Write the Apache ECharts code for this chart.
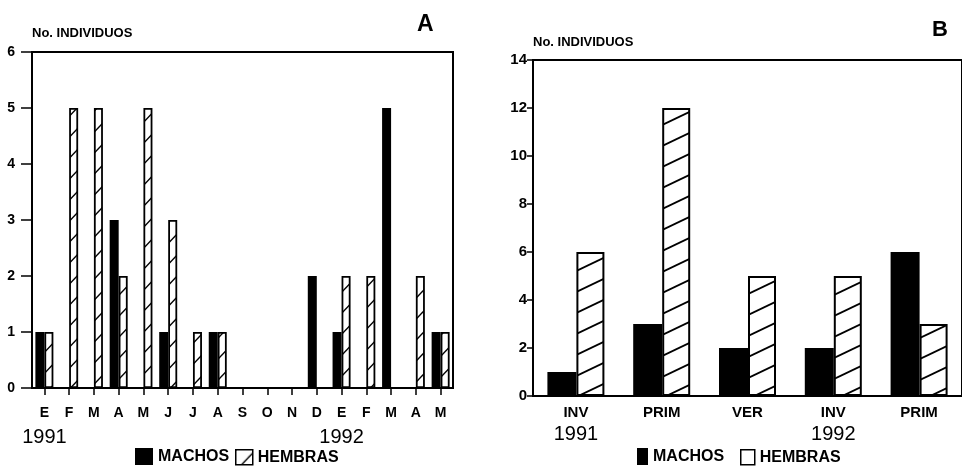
<!DOCTYPE html>
<html><head><meta charset="utf-8">
<script src="https://cdn.jsdelivr.net/npm/echarts@6/dist/echarts.min.js"></script>
<style>html,body{margin:0;padding:0;background:#fff}#c{width:962px;height:468px}</style>
</head><body><div id="c"></div>
<script>
// ---- Panel A data (monthly) ----
const monthsA = ['E','F','M','A','M','J','J','A','S','O','N','D','E','F','M','A','M'];
const machosA = [1,0,0,3,0,1,0,1,0,0,0,2,1,0,5,0,1];
const hembrasA = [1,5,5,2,5,3,1,1,0,0,0,0,2,2,0,2,1];
const yearMarksA = [[0,'1991'],[12,'1992']];
const yTicksA = [0,1,2,3,4,5,6];
// ---- Panel B data (seasonal) ----
const seasonsB = ['INV','PRIM','VER','INV','PRIM'];
const machosB = [1,3,2,2,6];
const hembrasB = [6,12,5,5,3];
const yearMarksB = [[0,'1991'],[3,'1992']];
const yTicksB = [0,2,4,6,8,10,12,14];

function hatch(W, H, lw) {
  const c = document.createElement('canvas');
  c.width = W; c.height = H;
  const ctx = c.getContext('2d');
  ctx.fillStyle = '#fff'; ctx.fillRect(0,0,W,H);
  ctx.strokeStyle = '#000'; ctx.lineWidth = lw;
  for (let k = -1; k <= 1; k++) {
    ctx.beginPath();
    ctx.moveTo(-W, 2*H + k*H);
    ctx.lineTo(2*W, -H + k*H);
    ctx.stroke();
  }
  return {image: c, repeat: 'repeat'};
}
const patA = hatch(20, 21, 1.4);
const patB = hatch(44, 21, 1.9);

const FONT = 'Liberation Sans';
function yearOf(marks, i) { const m = marks.find(p => p[0] === i); return m ? m[1] : null; }

const chart = echarts.init(document.getElementById('c'), null, {renderer: 'canvas'});
const axisLineStyle = {color: '#000', width: 2};
const legText = {fontFamily: FONT, fontSize: 16, fontWeight: 'bold', color: '#000'};
chart.setOption({
  backgroundColor: '#fff',
  animation: false,
  title: [
    {text: 'No. INDIVIDUOS', left: 32, top: 27, padding: 0, textStyle: {fontFamily: FONT, fontSize: 13, fontWeight: 'bold', color: '#000'}},
    {text: 'A', left: 417, top: 13, padding: 0, textStyle: {fontFamily: FONT, fontSize: 23, fontWeight: 'bold', color: '#000'}},
    {text: 'No. INDIVIDUOS', left: 533, top: 36, padding: 0, textStyle: {fontFamily: FONT, fontSize: 13, fontWeight: 'bold', color: '#000'}},
    {text: 'B', left: 932, top: 19, padding: 0, textStyle: {fontFamily: FONT, fontSize: 22, fontWeight: 'bold', color: '#000'}}
  ],
  legend: [
    {left: 135, top: 448, padding: 0, itemWidth: 18, itemHeight: 17, selectedMode: false,
     data: [{name: 'MACHOS', icon: 'rect', itemStyle: {color: '#000'}}], textStyle: legText},
    {left: 235, top: 449, padding: 0, itemWidth: 17, itemHeight: 15, selectedMode: false,
     data: [{name: 'HEMBRAS', icon: 'rect', itemStyle: {color: patA, borderColor: '#000', borderWidth: 1.5}}], textStyle: legText},
    {left: 637, top: 448, padding: 0, itemWidth: 11, itemHeight: 17, selectedMode: false,
     data: [{name: 'MACHOS', icon: 'rect', itemStyle: {color: '#000'}}], textStyle: legText},
    {left: 740, top: 449, padding: 0, itemWidth: 14, itemHeight: 15, selectedMode: false,
     data: [{name: 'HEMBRAS', icon: 'rect', itemStyle: {color: '#fff', borderColor: '#000', borderWidth: 1.5}}], textStyle: legText}
  ],
  grid: [
    {left: 32, top: 52, width: 421, height: 336, show: true, borderColor: '#000', borderWidth: 2, backgroundColor: 'transparent'},
    {left: 533, top: 60, width: 432, height: 336, show: true, borderColor: '#000', borderWidth: 2, backgroundColor: 'transparent'}
  ],
  xAxis: [
    {type: 'category', gridIndex: 0, data: monthsA,
     axisLine: {lineStyle: axisLineStyle},
     axisTick: {show: true, alignWithLabel: true, length: 7, interval: 0, lineStyle: {color: '#000', width: 1.5}},
     axisLabel: {interval: 0, margin: 17, verticalAlign: 'top',
       formatter: (v, i) => { const y = yearOf(yearMarksA, i); return y ? '{c|' + v + '}\n{y|' + y + '}' : '{c|' + v + '}'; },
       rich: {c: {fontFamily: FONT, fontSize: 14, fontWeight: 'bold', color: '#000', lineHeight: 16},
              y: {fontFamily: FONT, fontSize: 20, color: '#000', lineHeight: 32}}}},
    {type: 'category', gridIndex: 1, data: seasonsB,
     axisLine: {lineStyle: axisLineStyle},
     axisTick: {show: false},
     axisLabel: {interval: 0, margin: 10, verticalAlign: 'top',
       formatter: (v, i) => { const y = yearOf(yearMarksB, i); return y ? '{c|' + v + '}\n{y|' + y + '}' : '{c|' + v + '}'; },
       rich: {c: {fontFamily: FONT, fontSize: 15, fontWeight: 'bold', color: '#000', lineHeight: 14},
              y: {fontFamily: FONT, fontSize: 20, color: '#000', lineHeight: 28}}}}
  ],
  yAxis: [
    {type: 'value', gridIndex: 0, min: yTicksA[0], max: yTicksA[yTicksA.length-1], interval: yTicksA[1]-yTicksA[0],
     axisLine: {show: true, lineStyle: axisLineStyle}, splitLine: {show: false},
     axisTick: {show: true, length: 11, lineStyle: {color: '#000', width: 1.5}},
     axisLabel: {margin: 17, fontFamily: FONT, fontSize: 14, fontWeight: 'bold', color: '#000'}},
    {type: 'value', gridIndex: 1, min: yTicksB[0], max: yTicksB[yTicksB.length-1], interval: yTicksB[1]-yTicksB[0],
     axisLine: {show: true, lineStyle: axisLineStyle}, splitLine: {show: false},
     axisTick: {show: true, length: 6, lineStyle: {color: '#000', width: 1.5}},
     axisLabel: {margin: 6, fontFamily: FONT, fontSize: 15, fontWeight: 'bold', color: '#000'}}
  ],
  series: [
    {name: 'MACHOS', type: 'bar', xAxisIndex: 0, yAxisIndex: 0, data: machosA, barWidth: 9, barGap: '0%',
     itemStyle: {color: '#000'}},
    {name: 'HEMBRAS', type: 'bar', xAxisIndex: 0, yAxisIndex: 0, data: hembrasA, barWidth: 9, barGap: '0%',
     itemStyle: {color: patA, borderColor: '#000', borderWidth: 1.8}},
    {name: 'MACHOS', type: 'bar', xAxisIndex: 1, yAxisIndex: 1, data: machosB, barWidth: 29, barGap: '0%',
     itemStyle: {color: '#000'}},
    {name: 'HEMBRAS', type: 'bar', xAxisIndex: 1, yAxisIndex: 1, data: hembrasB, barWidth: 28, barGap: '0%',
     itemStyle: {color: patB, borderColor: '#000', borderWidth: 2}}
  ]
});
</script></body></html>
